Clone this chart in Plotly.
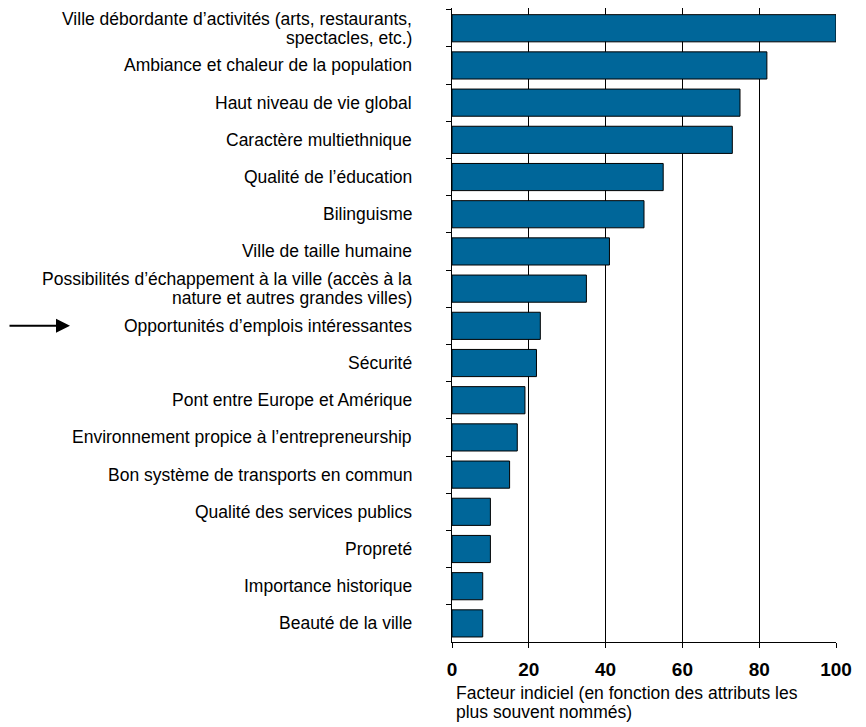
import plotly.graph_objects as go

categories = [
    "Ville débordante d’activités (arts, restaurants,<br>spectacles, etc.)",
    "Ambiance et chaleur de la population",
    "Haut niveau de vie global",
    "Caractère multiethnique",
    "Qualité de l’éducation",
    "Bilinguisme",
    "Ville de taille humaine",
    "Possibilités d’échappement à la ville (accès à la<br>nature et autres grandes villes)",
    "Opportunités d’emplois intéressantes",
    "Sécurité",
    "Pont entre Europe et Amérique",
    "Environnement propice à l’entrepreneurship",
    "Bon système de transports en commun",
    "Qualité des services publics",
    "Propreté",
    "Importance historique",
    "Beauté de la ville",
]
values = [100, 82, 75, 73, 55, 50, 41, 35, 23, 22, 19, 17, 15, 10, 10, 8, 8]
x_ticks = [0, 20, 40, 60, 80, 100]
highlight = "Opportunités d’emplois intéressantes"
x_title_lines = ["Facteur indiciel (en fonction des attributs les", "plus souvent nommés)"]

FONT = "Liberation Sans, Arial, sans-serif"
W, H = 858, 719  # page body has an 8px margin
L, R, T, B = 444, 30, 0, 85

fig = go.Figure(
    go.Bar(
        x=values,
        y=categories,
        orientation="h",
        marker=dict(color="#006699", line=dict(color="#000000", width=1)),
        width=0.73,
    )
)

fig.update_layout(
    width=W,
    height=H,
    margin=dict(l=L, r=R, t=T, b=B),
    paper_bgcolor="white",
    plot_bgcolor="white",
    showlegend=False,
    font=dict(family=FONT, color="#000000"),
)

fig.update_xaxes(
    range=[0, 100],
    tickvals=x_ticks,
    ticktext=[str(v) for v in x_ticks],
    showgrid=True,
    gridcolor="#000000",
    gridwidth=1,
    showline=True,
    linecolor="#000000",
    linewidth=1,
    ticks="outside",
    ticklen=5,
    tickcolor="#000000",
    tickfont=dict(family=FONT, size=19, color="#000000", weight="bold"),
    ticklabelstandoff=5,
    zeroline=False,
)

fig.update_yaxes(
    autorange="reversed",
    showline=True,
    linecolor="#000000",
    linewidth=1,
    ticks="outside",
    tickson="boundaries",
    ticklen=5,
    tickcolor="#000000",
    showticklabels=False,
    showgrid=False,
)

# category labels (right-aligned, tight leading)
LINE = 18.5
for cat in categories:
    lines = cat.split("<br>")
    n = len(lines)
    for i, line in enumerate(lines):
        fig.add_annotation(
            text=line,
            xref="paper", yref="y",
            x=0, y=cat,
            xanchor="right", yanchor="middle",
            xshift=-39,
            yshift=(n - 1) * LINE / 2 - i * LINE,
            showarrow=False,
            borderpad=0,
            font=dict(family=FONT, size=17.5, color="#000000"),
        )

# x-axis title lines
for i, line in enumerate(x_title_lines):
    fig.add_annotation(
        text=line,
        xref="paper", yref="paper",
        x=0, y=0, xanchor="left", yanchor="middle",
        xshift=3, yshift=-51 - 19 * i,
        showarrow=False,
        borderpad=0,
        font=dict(family=FONT, size=17.5, color="#000000"),
    )

# arrow pointing to highlighted category
fig.add_annotation(
    xref="paper", yref="y",
    x=(62 - L) / 384, y=highlight,
    ax=-62, ay=0,
    text="",
    showarrow=True,
    arrowhead=2,
    arrowsize=1.4,
    arrowwidth=2,
    arrowcolor="#000000",
)

fig.write_html("out.html")
